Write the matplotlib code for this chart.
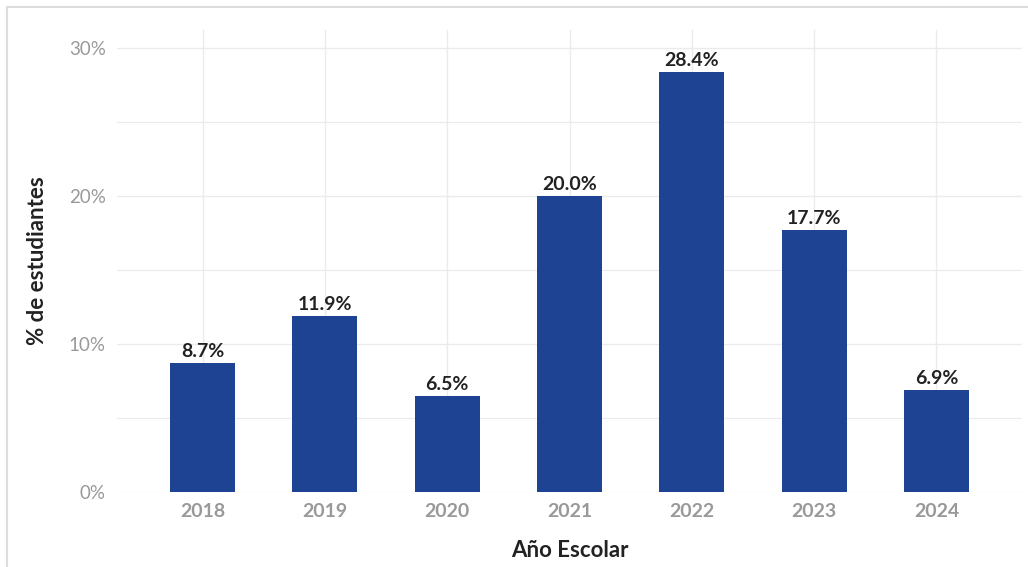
import numpy as np
import matplotlib
matplotlib.use("Agg")
import matplotlib.pyplot as plt
from matplotlib.lines import Line2D

# datos
years = ["2018", "2019", "2020", "2021", "2022", "2023", "2024"]
pct = [8.7, 11.9, 6.5, 20.0, 28.4, 17.7, 6.9]
y_ticks = [0, 10, 20, 30]
y_minor = [5, 15, 25]

plt.rcParams['font.family'] = ['Lato', 'DejaVu Sans']

fig = plt.figure(figsize=(10.28, 5.67), dpi=100)
ax = fig.add_axes([0.1138, 0.1323, 0.8804, 0.8147])

grid_col = "#ebebeb"
x = np.arange(len(years))
ax.bar(x, pct, width=0.53, color="#1f4393", zorder=3)

for xi, v in zip(x, pct):
    ax.annotate(f"{v:.1f}%", (xi, v), xytext=(0, 2), textcoords="offset points",
                ha="center", va="bottom", fontsize=14, fontweight="bold", color="#222222")

ax.set_xlim(-0.7, len(years) - 1 + 0.7)
ax.set_ylim(0, 31.2)
ax.set_xticks(x)
ax.set_xticklabels(years, fontsize=14, fontweight="bold", color="#999999")
ax.set_yticks(y_ticks)
ax.set_yticklabels([f"{t}%" for t in y_ticks], fontsize=13.5, color="#999999")
ax.set_yticks(y_minor, minor=True)

ax.grid(True, which="major", color=grid_col, linewidth=1, zorder=0)
ax.grid(True, which="minor", axis="y", color=grid_col, linewidth=0.8, zorder=0)
ax.tick_params(which="both", length=0, pad=8)
for s in ax.spines.values():
    s.set_visible(False)

ax.set_xlabel("Año Escolar", fontsize=16, fontweight="bold", color="#222222", labelpad=14)
ax.set_ylabel("% de estudiantes", fontsize=16, fontweight="bold", color="#222222", labelpad=15)

# marco gris parcial
fig.add_artist(Line2D([7/1028, 1], [1 - 7/567, 1 - 7/567], color="#dddddd", lw=1.5, transform=fig.transFigure))
fig.add_artist(Line2D([7/1028, 7/1028], [0, 1 - 7/567], color="#dddddd", lw=1.5, transform=fig.transFigure))

fig.savefig("out.png", dpi=100)
